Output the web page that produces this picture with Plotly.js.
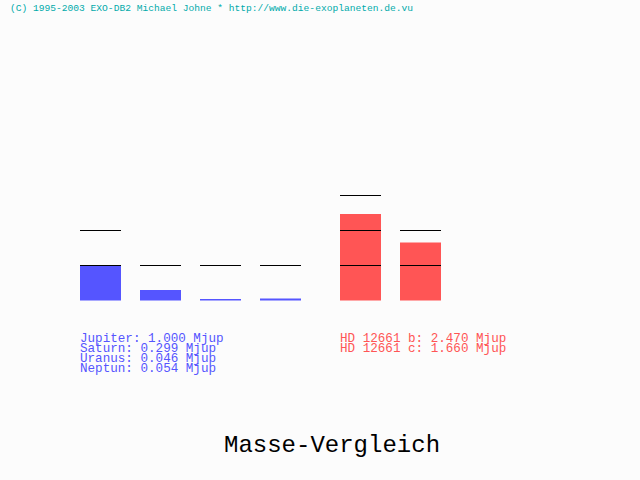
<!DOCTYPE html>
<html><head><meta charset="utf-8">
<script src="https://cdn.plot.ly/plotly-3.0.1.min.js"></script>
<style>html,body{margin:0;padding:0;background:#fcfcfc}</style>
</head><body><div id="chart" style="width:640px;height:480px"></div>
<script>
// ---- data ----
const solarNames = ["Jupiter", "Saturn", "Uranus", "Neptun"];
const solarMasses = [1.000, 0.299, 0.046, 0.054];
const exoNames = ["HD 12661 b", "HD 12661 c"];
const exoMasses = [2.470, 1.660];
const unit = "Mjup";
const titleText = "Masse-Vergleich";
const creditText = "(C) 1995-2003 EXO-DB2 Michael Johne * http://www.die-exoplaneten.de.vu";

// ---- layout constants ----
const W = 640, H = 480;
const slotPx = 60, groupGapPx = 80, firstCenterPx = 100.5, barPx = 41;
const basePx = 300.5, unitPx = 35;
const blue = "#5555ff", red = "#ff5555", teal = "#00aaaa";
const mono = "Liberation Mono, DejaVu Sans Mono, monospace";

const solarX = solarNames.map((_, i) => i);
const exoX = exoNames.map((_, i) => (solarNames.length - 1) + groupGapPx / slotPx + i);
const barW = barPx / slotPx;

// reference lines at integer masses 1..floor(m)+1
const lx = [], ly = [];
function addLines(xs, ms) {
  xs.forEach((x, i) => {
    const top = Math.floor(ms[i]) + 1;
    for (let k = 1; k <= top; k++) {
      lx.push(x - barW / 2, x + barW / 2, null);
      ly.push(k, k, null);
    }
  });
}
addLines(solarX, solarMasses);
addLines(exoX, exoMasses);

const traces = [
  { type: "bar", x: solarX, y: solarMasses, width: barW,
    marker: { color: blue, line: { width: 0 } }, hoverinfo: "skip" },
  { type: "bar", x: exoX, y: exoMasses, width: barW,
    marker: { color: red, line: { width: 0 } }, hoverinfo: "skip" },
  { type: "scatter", mode: "lines", x: lx, y: ly,
    line: { color: "#000000", width: 1 }, hoverinfo: "skip" }
];

const xr = [-firstCenterPx / slotPx, (W - firstCenterPx) / slotPx];
const yr = [(basePx - H) / unitPx, basePx / unitPx];

function py(px) { return 1 - px / H; }
const lineStep = 10, legendTop = 339, glyphPx = 12.6;
function block(names, masses) {
  return names.map((n, i) =>
    '<span style="font-size:' + glyphPx + 'px">' + n + ": " + masses[i].toFixed(3) + " " + unit + "</span>"
  ).join("<br>");
}
const ann = [
  { xref: "paper", yref: "paper", x: 78 / W, y: py(legendTop + lineStep * (solarNames.length - 1) / 2),
    xanchor: "left", yanchor: "middle", showarrow: false, align: "left",
    text: block(solarNames, solarMasses),
    font: { family: mono, size: lineStep / 1.3, color: blue } },
  { xref: "paper", yref: "paper", x: 338 / W, y: py(legendTop + lineStep * (exoNames.length - 1) / 2),
    xanchor: "left", yanchor: "middle", showarrow: false, align: "left",
    text: block(exoNames, exoMasses),
    font: { family: mono, size: lineStep / 1.3, color: red } },
  { xref: "paper", yref: "paper", x: 8 / W, y: py(8),
    xanchor: "left", yanchor: "middle", showarrow: false,
    text: creditText, font: { family: mono, size: 9.6, color: teal } },
  { xref: "paper", yref: "paper", x: 332 / W, y: py(445),
    xanchor: "center", yanchor: "middle", showarrow: false,
    text: titleText, font: { family: mono, size: 24, color: "#000000" } }
];

const layout = {
  width: W, height: H,
  margin: { l: 0, r: 0, t: 0, b: 0, pad: 0 },
  paper_bgcolor: "#fcfcfc", plot_bgcolor: "#fcfcfc",
  showlegend: false, barmode: "overlay",
  xaxis: { range: xr, showgrid: false, zeroline: false, showticklabels: false, showline: false, ticks: "", fixedrange: true },
  yaxis: { range: yr, showgrid: false, zeroline: false, showticklabels: false, showline: false, ticks: "", fixedrange: true },
  annotations: ann
};

Plotly.newPlot("chart", traces, layout, { displayModeBar: false, staticPlot: true });
</script></body></html>
